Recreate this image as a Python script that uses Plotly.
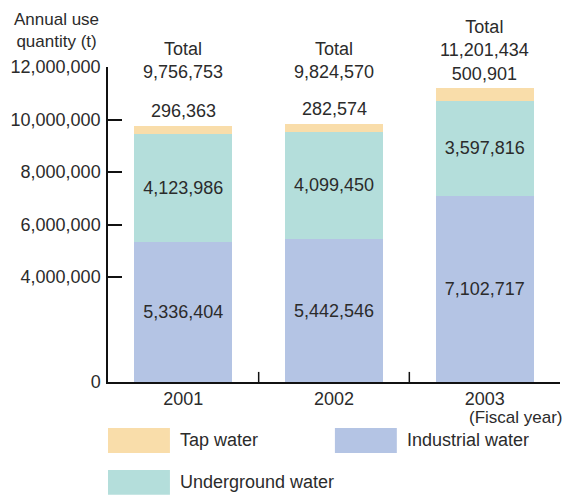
import plotly.graph_objects as go

# Annual water use by source (tonnes), fiscal years
years = ["2001", "2002", "2003"]
industrial = [5336404, 5442546, 7102717]
underground = [4123986, 4099450, 3597816]
tap = [296363, 282574, 500901]
totals = [9756753, 9824570, 11201434]

series_names = ["Tap water", "Industrial water", "Underground water"]
colors = {"Tap water": "#f9ddaa", "Industrial water": "#b4c4e4", "Underground water": "#b4dedb"}

y_tick_vals = [0, 4000000, 6000000, 8000000, 10000000, 12000000]
y_tick_text = ["0", "4,000,000", "6,000,000", "8,000,000", "10,000,000", "12,000,000"]

FONT = "Liberation Sans, Arial, Helvetica, sans-serif"
TXT = "#2b2b2b"
FS = 18

fmt = lambda v: f"{v:,}"

fig = go.Figure()
fig.add_trace(go.Bar(
    x=years, y=industrial, name="Industrial water",
    marker=dict(color=colors["Industrial water"], line=dict(width=0)),
    text=[fmt(v) for v in industrial], textposition="inside",
    insidetextanchor="middle", textangle=0,
    textfont=dict(family=FONT, size=FS, color=TXT), width=0.65,
))
fig.add_trace(go.Bar(
    x=years, y=underground, name="Underground water",
    marker=dict(color=colors["Underground water"], line=dict(width=0)),
    text=[fmt(v) for v in underground], textposition="inside",
    insidetextanchor="middle", textangle=0,
    textfont=dict(family=FONT, size=FS, color=TXT), width=0.65,
))
fig.add_trace(go.Bar(
    x=years, y=tap, name="Tap water",
    marker=dict(color=colors["Tap water"], line=dict(width=0)),
    width=0.65,
))

annotations = []
for i, (t, tp) in enumerate(zip(totals, tap)):
    if t > 10500000:
        # tall bar: stack total and tap value directly above the bar
        annotations.append(dict(
            x=i, y=t, xref="x", yref="y", yanchor="bottom", yshift=2,
            text=f"Total<br>{fmt(t)}<br>{fmt(tp)}", showarrow=False,
            font=dict(family=FONT, size=FS, color=TXT),
        ))
    else:
        annotations.append(dict(
            x=i, y=t, xref="x", yref="y", yanchor="bottom", yshift=3,
            text=fmt(tp), showarrow=False,
            font=dict(family=FONT, size=FS, color=TXT),
        ))
        annotations.append(dict(
            x=i, y=0.946, xref="x", yref="paper", yanchor="bottom",
            text=f"Total<br>{fmt(t)}", showarrow=False,
            font=dict(family=FONT, size=FS, color=TXT),
        ))

# axis titles
annotations.append(dict(
    x=-0.113, y=1.117, xref="paper", yref="paper", xanchor="center", yanchor="middle",
    text="Annual use<br>quantity (t)", showarrow=False,
    font=dict(family=FONT, size=17, color=TXT),
))
annotations.append(dict(
    x=1.012, y=-0.112, xref="paper", yref="paper", xanchor="right", yanchor="middle",
    text="(Fiscal year)", showarrow=False,
    font=dict(family=FONT, size=17, color=TXT),
))

# category dividers on the x axis
shapes = []
for b in [0.5, 1.5]:
    shapes.append(dict(type="line", xref="x", yref="paper", x0=b, x1=b, y0=0, y1=0.032,
                       line=dict(color="#111", width=1.5)))

# legend swatches
legend_items = [
    ("Tap water", 0.0, -0.146),
    ("Industrial water", 0.502, -0.146),
    ("Underground water", 0.0, -0.279),
]
sw_w, sw_h = 0.137, 0.079
for name, lx, ly in legend_items:
    shapes.append(dict(type="rect", xref="paper", yref="paper",
                       x0=lx, x1=lx + sw_w, y0=ly - sw_h, y1=ly,
                       fillcolor=colors[name], line=dict(width=0)))
    annotations.append(dict(
        x=lx + sw_w + 0.018, y=ly - sw_h / 2, xref="paper", yref="paper",
        xanchor="left", yanchor="middle", text=name, showarrow=False,
        font=dict(family=FONT, size=FS, color=TXT),
    ))

fig.update_layout(
    barmode="stack",
    width=567, height=497,
    margin=dict(l=108, r=7, t=67, b=115),
    plot_bgcolor="white", paper_bgcolor="white",
    showlegend=False,
    font=dict(family=FONT, size=FS, color=TXT),
    annotations=annotations,
    shapes=shapes,
    xaxis=dict(
        type="category", range=[-0.5, 2.5], showline=True, linecolor="#111", linewidth=1.5,
        ticks="", showgrid=False, tickfont=dict(family=FONT, size=FS, color=TXT),
        fixedrange=True,
    ),
    yaxis=dict(
        range=[0, 12000000], tickvals=y_tick_vals, ticktext=y_tick_text,
        showline=True, linecolor="#111", linewidth=1.5,
        ticks="inside", ticklen=14, tickwidth=1.5, tickcolor="#111",
        ticklabelstandoff=2,
        showgrid=False, zeroline=False,
        tickfont=dict(family=FONT, size=FS, color=TXT), fixedrange=True,
    ),
)

fig.write_html("out.html")
